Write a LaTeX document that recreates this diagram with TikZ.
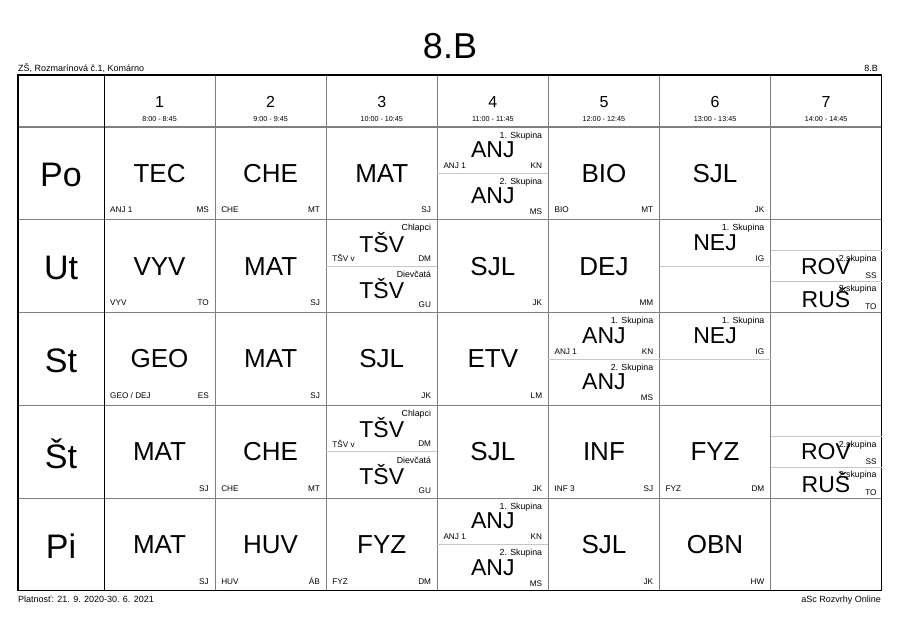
\documentclass[tikz,border=0pt]{standalone}
\usepackage{fontspec}
\setmainfont{Liberation Sans}
\definecolor{gridgray}{gray}{0.5}
\definecolor{splitgray}{gray}{0.78}
\tikzset{
  sz/.style={font=\fontsize{#1}{#1}\selectfont},
  subj/.style={sz=26, inner sep=0pt, text depth=0pt},
  halfsubj/.style={sz=23, inner sep=0pt, text depth=0pt},
  tag/.style={sz=8.2, inner sep=0pt, text depth=0pt},
  grptag/.style={sz=8.8, inner sep=0pt, text depth=0pt},
  gridline/.style={draw=gridgray, line width=0.8pt},
  splitline/.style={draw=splitgray, line width=0.8pt}
}
\begin{document}
\begin{tikzpicture}[x=1pt,y=-1pt]
\useasboundingbox (0,0) rectangle (900,636);
% header and footer
\node[sz=36, inner sep=0pt, text depth=0pt] (title) at (450,46) {8.B};
\node[sz=9, inner sep=0pt, text depth=0pt, anchor=west] (school) at (18,68) {ZŠ, Rozmarínová č.1, Komárno};
\node[sz=9, inner sep=0pt, text depth=0pt, anchor=east] (classtag) at (878,68) {8.B};
\node[sz=9, inner sep=0pt, text depth=0pt, anchor=west] (valid) at (18,599) {Platnosť: 21. 9. 2020-30. 6. 2021};
\node[sz=9, inner sep=0pt, text depth=0pt, anchor=east] (brand) at (881,599) {aSc Rozvrhy Online};
% grid
\foreach \c in {1,...,6}
\draw[gridline] (104+111.1*\c,75) -- (104+111.1*\c,590.8);
\foreach \r in {1,...,4}
\draw[gridline, line width=1.2pt] (18,127+92.8*\r) -- (881.7,127+92.8*\r);
\draw[gridline, line width=2pt] (18,127) -- (881.7,127);
\draw[line width=0.9pt] (104,75) -- (104,590.8);
\draw[line width=1.2pt] (18,75) rectangle (881.7,590.8);
% periods
\foreach \t [count=\c] in {8:00 - 8:45,9:00 - 9:45,10:00 - 10:45,11:00 - 11:45,12:00 - 12:45,13:00 - 13:45,14:00 - 14:45}{
\node[sz=16, inner sep=0pt, text depth=0pt] (per-\c) at (104+111.1*\c-55.55,101.7) {\c};
\node[sz=7.2, inner sep=0pt, text depth=0pt] (time-\c) at (104+111.1*\c-55.55,119.3) {\t};
}
% days
\foreach \d [count=\r] in {Po,Ut,St,Št,Pi}
\node[sz=34, inner sep=0pt, text depth=0pt] (day-\r) at (61,127+92.8*\r-92.8+48) {\d};
% full lessons
\foreach \c/\r/\s/\l/\t in {1/1/TEC/ANJ 1/MS,2/1/CHE/CHE/MT,3/1/MAT//SJ,5/1/BIO/BIO/MT,6/1/SJL//JK,
 1/2/VYV/VYV/TO,2/2/MAT//SJ,4/2/SJL//JK,5/2/DEJ//MM,
 1/3/GEO/{GEO / DEJ}/ES,2/3/MAT//SJ,3/3/SJL//JK,4/3/ETV//LM,
 1/4/MAT//SJ,2/4/CHE/CHE/MT,4/4/SJL//JK,5/4/INF/INF 3/SJ,6/4/FYZ/FYZ/DM,
 1/5/MAT//SJ,2/5/HUV/HUV/ÁB,3/5/FYZ/FYZ/DM,5/5/SJL//JK,6/5/OBN//HW}{
\pgfmathsetmacro\xl{104+111.1*(\c-1)}
\pgfmathsetmacro\yt{127+92.8*(\r-1)}
\node[subj] (sub-\c-\r) at (\xl+55.55,\yt+46.3) {\s};
\node[tag, anchor=west] (cls-\c-\r) at (\xl+6,\yt+83) {\l};
\node[tag, anchor=east] (tch-\c-\r) at (\xl+105,\yt+83) {\t};
}
% split lessons
\foreach \c/\r in {4/1,3/2,6/2,5/3,6/3,3/4,4/5}
\draw[splitline] (104+111.1*\c-111.1,127+92.8*\r-92.8+46.4) -- (104+111.1*\c,127+92.8*\r-92.8+46.4);
\foreach \c/\r/\h/\g/\s/\l/\t in {4/1/0/1. Skupina/ANJ/ANJ 1/KN,4/1/1/2. Skupina/ANJ//MS,
 3/2/0/Chlapci/TŠV/TŠV v/DM,3/2/1/Dievčatá/TŠV//GU,6/2/0/1. Skupina/NEJ//IG,
 5/3/0/1. Skupina/ANJ/ANJ 1/KN,5/3/1/2. Skupina/ANJ//MS,6/3/0/1. Skupina/NEJ//IG,
 3/4/0/Chlapci/TŠV/TŠV v/DM,3/4/1/Dievčatá/TŠV//GU,
 4/5/0/1. Skupina/ANJ/ANJ 1/KN,4/5/1/2. Skupina/ANJ//MS}{
\pgfmathsetmacro\xl{104+111.1*(\c-1)}
\pgfmathsetmacro\yt{127+92.8*(\r-1)+46.4*\h}
\node[grptag, anchor=east] (grp-\c-\r-\h) at (\xl+105,\yt+8) {\g};
\node[halfsubj] (sub-\c-\r-\h) at (\xl+55.55,\yt+22.5) {\s};
\node[tag, anchor=west] (cls-\c-\r-\h) at (\xl+6,\yt+38.6) {\l};
\node[tag, anchor=east] (tch-\c-\r-\h) at (\xl+105,\yt+38.6) {\t};
}
% language groups in the last period
\foreach \r in {2,4}{
\pgfmathsetmacro\yt{127+92.8*(\r-1)}
\draw[splitline] (770.6,\yt+31) -- (881.7,\yt+31);
\draw[splitline] (770.6,\yt+62) -- (881.7,\yt+62);
\node[halfsubj] (rov-\r) at (826,\yt+46.5) {ROV};
\node[grptag, anchor=east] (rovgrp-\r) at (876.7,\yt+38.5) {2.skupina};
\node[tag, anchor=east] (rovtch-\r) at (876.7,\yt+55.8) {SS};
\node[halfsubj] (rus-\r) at (826,\yt+77.5) {RUŠ};
\node[grptag, anchor=east] (rusgrp-\r) at (876.7,\yt+68.5) {2.skupina};
\node[tag, anchor=east] (rustch-\r) at (876.7,\yt+86.8) {TO};
}
\end{tikzpicture}
\end{document}
